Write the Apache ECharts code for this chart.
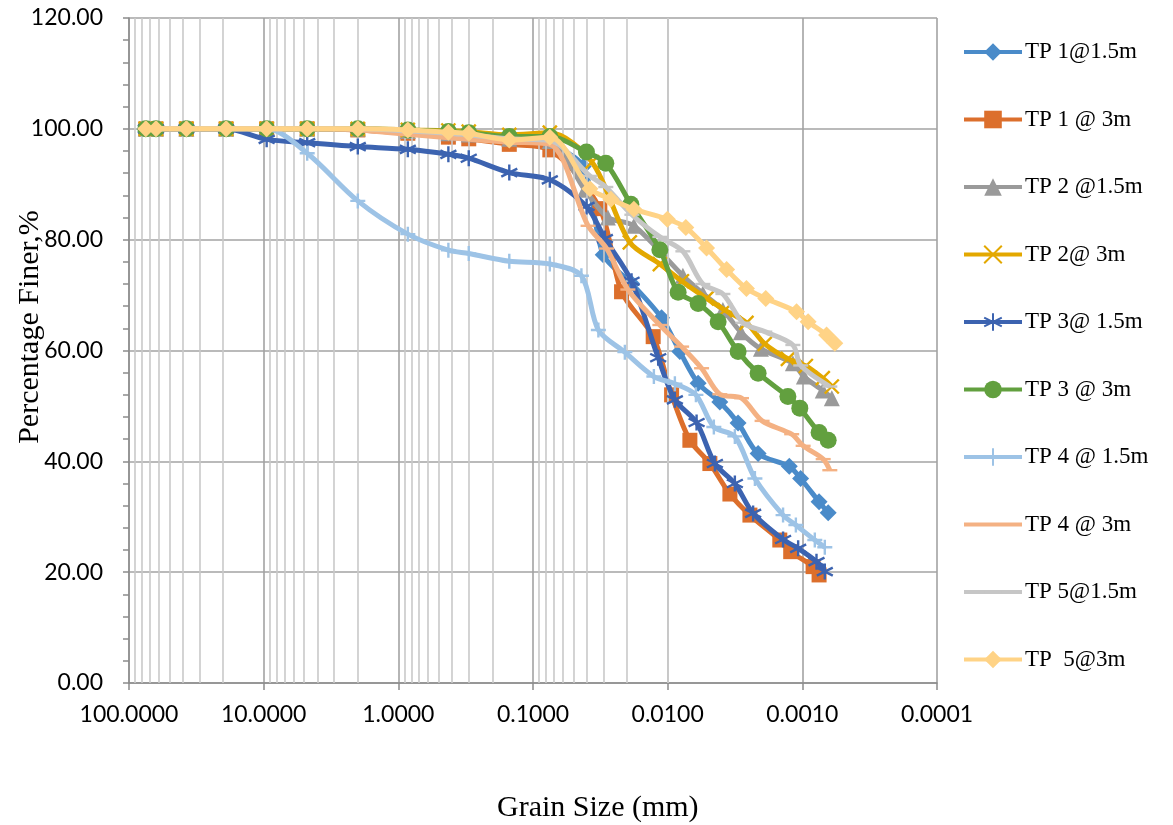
<!DOCTYPE html>
<html>
<head>
<meta charset="utf-8">
<script src="https://cdn.jsdelivr.net/npm/echarts@6/dist/echarts.min.js"></script>
<style>
html,body{margin:0;padding:0;background:#fff;}
#chart{width:1173px;height:825px;}
</style>
</head>
<body>
<div id="chart"></div>
<script>
// ---------- data ----------
const sieveSizes = [75, 63, 37.5, 19, 9.5, 4.75, 2, 0.85, 0.425, 0.3, 0.15, 0.075];
const xTickValues = [100, 10, 1, 0.1, 0.01, 0.001, 0.0001];
const yTickValues = [0, 20, 40, 60, 80, 100, 120];

const seriesNames = ['TP 1@1.5m', 'TP 1 @ 3m', 'TP 2 @1.5m', 'TP 2@ 3m', 'TP 3@ 1.5m',
  'TP 3 @ 3m', 'TP 4 @ 1.5m', 'TP 4 @ 3m', 'TP 5@1.5m', 'TP  5@3m'];

const tp1a_sievePct = [100, 100, 100, 100, 100, 100, 99.8, 99.3, 98.7, 98.4, 97.5, 96.9];
const tp1a_hydSize = [0.0424, 0.0301, 0.01854, 0.0111, 0.00812, 0.00594, 0.0041, 0.003, 0.00213, 0.00125, 0.00103, 0.000751, 0.000643];
const tp1a_hydPct = [93.2, 77.3, 72.1, 65.9, 59.8, 54.1, 50.7, 46.9, 41.4, 39.1, 36.9, 32.7, 30.7];

const tp1b_sievePct = [100, 100, 100, 100, 100, 100, 99.8, 99.2, 98.5, 98.2, 97.2, 96.2];
const tp1b_hydSize = [0.0319, 0.022, 0.01281, 0.00935, 0.00684, 0.00486, 0.00345, 0.00245, 0.00147, 0.00122, 0.000832, 0.000751];
const tp1b_hydPct = [85.6, 70.6, 62.5, 52.0, 43.8, 39.6, 34.1, 30.3, 25.8, 23.7, 21.0, 19.5];

const tp2a_sievePct = [100, 100, 100, 100, 100, 100, 100, 99.6, 99.2, 99.0, 98.2, 97.8];
const tp2a_hydSize = [0.0412, 0.0278, 0.01782, 0.00771, 0.00548, 0.00389, 0.00286, 0.00203, 0.001176, 0.000974, 0.000705, 0.000604];
const tp2a_hydPct = [89.0, 84.0, 82.5, 73.5, 70.3, 67.3, 63.3, 60.3, 57.7, 55.3, 52.8, 51.4];

const tp2b_sievePct = [100, 100, 100, 100, 100, 100, 100, 99.8, 99.7, 99.5, 98.9, 99.3];
const tp2b_hydSize = [0.0365, 0.0191, 0.01143, 0.00784, 0.00514, 0.00376, 0.0026, 0.0019, 0.00128, 0.000942, 0.000705, 0.000604];
const tp2b_hydPct = [94.0, 79.5, 75.6, 72.5, 69.4, 67.3, 65.0, 61.2, 58.5, 57.2, 55.0, 53.5];

const tp3a_sievePct = [100, 100, 100, 100, 98.1, 97.5, 96.8, 96.3, 95.4, 94.7, 92.1, 90.8];
const tp3a_hydSize = [0.04, 0.02925, 0.01854, 0.01176, 0.00884, 0.0061, 0.00446, 0.00317, 0.00232, 0.00139, 0.001074, 0.000785, 0.000681];
const tp3a_hydPct = [86.0, 80.2, 72.5, 58.7, 51.1, 47.0, 39.6, 36.0, 30.6, 25.9, 24.3, 21.9, 20.1];

const tp3b_sievePct = [100, 100, 100, 100, 100, 100, 100, 99.8, 99.5, 99.3, 98.6, 98.6];
const tp3b_hydSize = [0.0401, 0.0288, 0.01876, 0.01143, 0.00836, 0.00594, 0.00422, 0.003, 0.00213, 0.00128, 0.001044, 0.000751, 0.000643];
const tp3b_hydPct = [95.8, 93.8, 86.4, 78.2, 70.5, 68.5, 65.2, 59.8, 55.9, 51.7, 49.6, 45.2, 43.8];

const tp4a_sievePct = [100, 100, 100, 100, 100, 95.6, 87.0, 81.0, 78.1, 77.5, 76.1, 75.6];
const tp4a_hydSize = [0.0437, 0.0327, 0.0208, 0.01266, 0.00884, 0.00617, 0.00454, 0.00317, 0.00225, 0.00139, 0.001117, 0.000808, 0.000681];
const tp4a_hydPct = [73.5, 63.7, 59.7, 55.3, 54.0, 52.0, 46.2, 44.5, 36.9, 30.3, 28.5, 25.8, 24.5];

const tp4b_sievePct = [100, 100, 100, 100, 100, 100, 99.8, 99.0, 98.4, 98.1, 97.6, 97.2];
const tp4b_hydSize = [0.039, 0.0284, 0.01975, 0.01143, 0.00788, 0.0056, 0.0041, 0.00283, 0.00199, 0.0012, 0.000986, 0.0007, 0.000625];
const tp4b_hydPct = [82.5, 78.4, 71.0, 64.6, 60.7, 56.8, 52.1, 51.4, 47.3, 44.9, 42.8, 40.4, 38.4];

const tp5a_sievePct = [100, 100, 100, 100, 100, 100, 100, 99.6, 99.2, 98.9, 98.2, 97.9];
const tp5a_hydSize = [0.0378, 0.0288, 0.01844, 0.01143, 0.00771, 0.00548, 0.00389, 0.00276, 0.0019, 0.001176, 0.001028, 0.000625];
const tp5a_hydPct = [91.5, 89.5, 84.5, 80.5, 77.9, 72.0, 70.2, 65.0, 63.4, 61.0, 57.3, 53.5];

const tp5b_sievePct = [100, 100, 100, 100, 100, 100, 100, 99.8, 99.4, 99.2, 98.0, 98.5];
const tp5b_hydSize = [0.0378, 0.0264, 0.01782, 0.01005, 0.00733, 0.00514, 0.00365, 0.0026, 0.00187, 0.001104, 0.000906, 0.000661, 0.000574];
const tp5b_hydPct = [89.2, 87.3, 85.5, 83.7, 82.2, 78.5, 74.6, 71.2, 69.4, 67.0, 65.2, 62.8, 61.3];

// ---------- styling ----------
const SYM_X = 'path://M0,0L10,10M10,0L0,10';
const SYM_PLUS = 'path://M5,0L5,10M0,5L10,5';
const SYM_STAR = 'path://M5,0L5,10M0.7,2.5L9.3,7.5M9.3,2.5L0.7,7.5';
const SYM_DASH = 'path://M0,0M0,5L10,5M10,10';

const styles = [
  {color: '#4a8bc9', symbol: 'diamond', size: 17, stroke: false},
  {color: '#dc6f2c', symbol: 'rect', size: 15, stroke: false},
  {color: '#9a9a9a', symbol: 'triangle', size: 16, stroke: false},
  {color: '#e3a800', symbol: SYM_X, size: 14, stroke: true},
  {color: '#3c63b0', symbol: SYM_STAR, size: 16, stroke: true},
  {color: '#62a03f', symbol: 'circle', size: 17, stroke: false},
  {color: '#9dc3e6', symbol: SYM_PLUS, size: 15, stroke: true},
  {color: '#f4b183', symbol: SYM_DASH, size: 15, stroke: true},
  {color: '#c6c6c6', symbol: SYM_DASH, size: 15, stroke: true},
  {color: '#ffd386', symbol: 'diamond', size: 17, stroke: false}
];

const sets = [
  [tp1a_sievePct, tp1a_hydSize, tp1a_hydPct],
  [tp1b_sievePct, tp1b_hydSize, tp1b_hydPct],
  [tp2a_sievePct, tp2a_hydSize, tp2a_hydPct],
  [tp2b_sievePct, tp2b_hydSize, tp2b_hydPct],
  [tp3a_sievePct, tp3a_hydSize, tp3a_hydPct],
  [tp3b_sievePct, tp3b_hydSize, tp3b_hydPct],
  [tp4a_sievePct, tp4a_hydSize, tp4a_hydPct],
  [tp4b_sievePct, tp4b_hydSize, tp4b_hydPct],
  [tp5a_sievePct, tp5a_hydSize, tp5a_hydPct],
  [tp5b_sievePct, tp5b_hydSize, tp5b_hydPct]
];

function buildData(s) {
  const d = [];
  sieveSizes.forEach((x, i) => d.push([x, s[0][i]]));
  s[1].forEach((x, i) => d.push([x, s[2][i]]));
  return d;
}

// minor vertical grid lines (2..9 x 10^k)
const minorLines = [];
for (let k = -4; k <= 1; k++) {
  for (let m = 2; m <= 9; m++) {
    minorLines.push({xAxis: m * Math.pow(10, k)});
  }
}

const series = [{
  type: 'line',
  name: '__minor',
  data: [],
  silent: true,
  z: 1,
  markLine: {
    silent: true,
    symbol: ['none', 'none'],
    label: {show: false},
    animation: false,
    lineStyle: {color: '#c9c9c9', width: 1.6, type: 'solid'},
    emphasis: {disabled: true},
    data: minorLines
  }
}];

sets.forEach((s, i) => {
  const st = styles[i];
  series.push({
    type: 'line',
    name: seriesNames[i],
    data: buildData(s),
    smooth: 0.3,
    showAllSymbol: true,
    symbol: st.symbol,
    symbolSize: st.size,
    z: 2 + i,
    lineStyle: {color: st.color, width: 5},
    itemStyle: st.stroke
      ? {color: st.color, borderColor: st.color, borderWidth: 2.4}
      : {color: st.color, borderWidth: 0},
    emphasis: {disabled: true},
    animation: false
  });
});

const tickFont = 'Lato';

const option = {
  animation: false,
  backgroundColor: '#ffffff',
  grid: {left: 129, right: 236, top: 18, bottom: 142, containLabel: false, outerBoundsMode: 'none'},
  title: {
    text: 'Grain Size (mm)',
    left: 492, top: 788,
    textStyle: {fontFamily: 'Liberation Serif', fontSize: 30, fontWeight: 'normal', color: '#000'}
  },
  graphic: [{
    type: 'text',
    x: 30, y: 327,
    rotation: Math.PI / 2,
    style: {
      text: 'Percentage Finer,%',
      fontFamily: 'Liberation Serif', fontSize: 30,
      fill: '#000', align: 'center', verticalAlign: 'middle'
    }
  }],
  legend: {
    orient: 'vertical',
    left: 957, top: 35,
    itemWidth: 58, itemHeight: 22,
    itemGap: 43.5,
    data: seriesNames,
    lineStyle: {width: 4},
    textStyle: {fontFamily: 'Liberation Serif', fontSize: 23, color: '#000', lineHeight: 24, padding: [0, 0, 0, -2]},
    selectedMode: false
  },
  xAxis: {
    type: 'log',
    logBase: 10,
    min: 0.0001,
    max: 100,
    inverse: true,
    axisLine: {show: true, lineStyle: {color: '#8c8c8c', width: 1.5}},
    axisTick: {show: true, inside: false, length: 7, lineStyle: {color: '#8c8c8c', width: 1.5}},
    axisLabel: {
      margin: 20,
      fontFamily: tickFont, fontSize: 23, color: '#000',
      formatter: v => {
        const t = xTickValues.find(x => Math.abs(Math.log10(x) - Math.log10(v)) < 1e-6);
        return (t !== undefined ? t : v).toFixed(4);
      }
    },
    splitLine: {show: true, lineStyle: {color: '#a3a3a3', width: 1.6}},
    minorTick: {show: false},
    minorSplitLine: {show: false}
  },
  yAxis: {
    type: 'value',
    min: yTickValues[0],
    max: yTickValues[yTickValues.length - 1],
    interval: 20,
    axisLine: {show: true, lineStyle: {color: '#8c8c8c', width: 1.5}},
    axisTick: {show: true, inside: false, length: 6, lineStyle: {color: '#8c8c8c', width: 1.5}},
    minorTick: {show: true, splitNumber: 5, length: 6, lineStyle: {color: '#8c8c8c', width: 1.5}},
    axisLabel: {
      margin: 26,
      fontFamily: tickFont, fontSize: 23, color: '#000',
      formatter: v => v.toFixed(2)
    },
    splitLine: {show: true, lineStyle: {color: '#a3a3a3', width: 1.6}}
  },
  series: series
};

const chart = echarts.init(document.getElementById('chart'), null, {renderer: 'canvas'});
chart.setOption(option);
</script>
</body>
</html>
